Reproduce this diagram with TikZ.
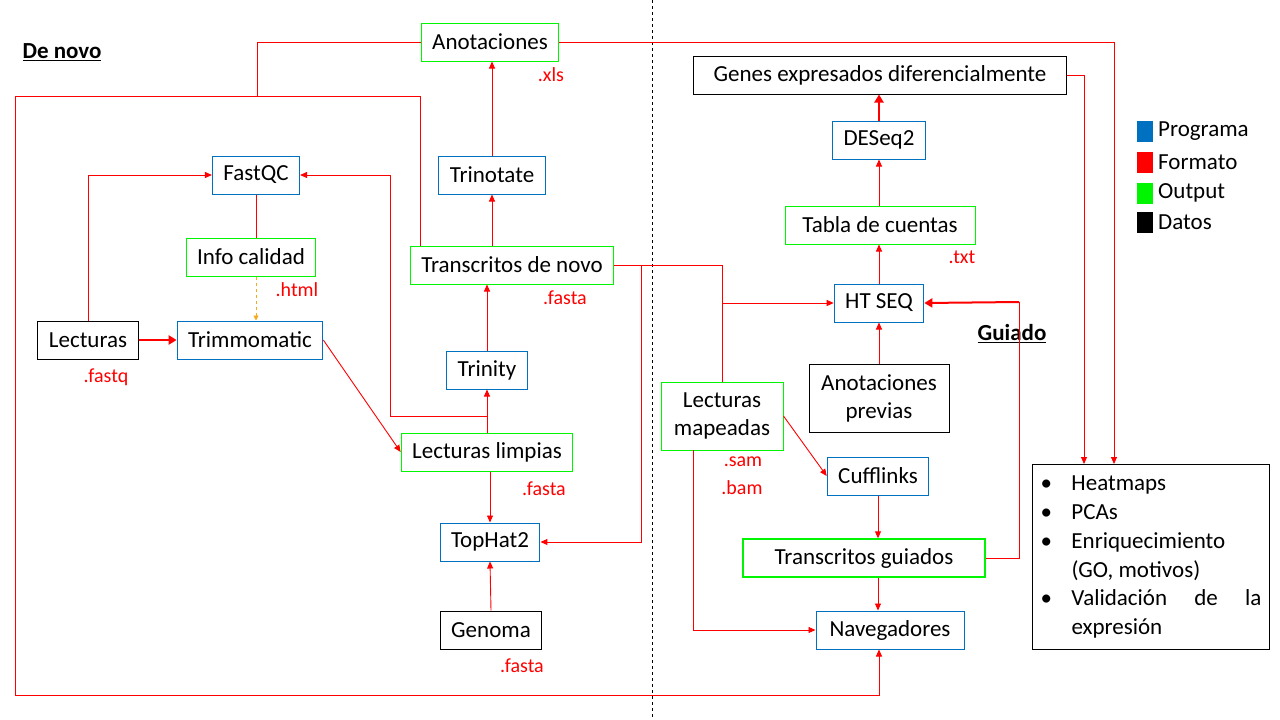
\documentclass[tikz,border=0pt]{standalone}
\usepackage{fontspec}
\setmainfont{Carlito}
\usetikzlibrary{arrows.meta}

\definecolor{azul}{RGB}{0,112,192}
\definecolor{verde}{RGB}{0,245,0}
\definecolor{rojo}{RGB}{255,0,0}
\definecolor{naranja}{RGB}{245,170,30}

\tikzset{
  caja/.style={draw, line width=1pt, minimum height=38pt, inner xsep=11pt, inner ysep=3pt,
    font=\fontsize{23}{28}\selectfont},
  prog/.style={caja, draw=azul},
  outp/.style={caja, draw=verde},
  dato/.style={caja, draw=black},
  fmt/.style={text=rojo, font=\fontsize{20}{24}\selectfont, inner sep=0pt},
  titulo/.style={font=\fontsize{23}{28}\selectfont\bfseries, inner sep=0pt},
  linea/.style={draw=rojo, line width=0.9pt},
  flecha/.style={linea, -{Triangle[width=6pt,length=7pt]}},
  gruesa/.style={draw=rojo, line width=2pt, -{Triangle[width=9pt,length=8pt]}}
}

\begin{document}
\begin{tikzpicture}[x=1pt, y=-1pt]
  \useasboundingbox (0,0) rectangle (1280,720);

  % Division de novo / guiado
  \draw[dashed, line width=0.8pt] (652,0) -- (652,720);
  \node[titulo] (denovo) at (62,52) {\underline{De novo}};
  \node[titulo] (guiado) at (1012,334) {\underline{Guiado}};

  % De novo
  \node[prog] (fastqc) at (256,175) {FastQC};
  \node[outp] (info) at (251,257) {Info calidad};
  \node[fmt] (html) at (297,290) {.html};
  \node[dato] (lect) at (88,340) {Lecturas};
  \node[fmt] (fastq) at (106,377) {.fastq};
  \node[prog] (trim) at (250,340) {Trimmomatic};
  \node[outp] (anot) at (490,42) {Anotaciones};
  \node[fmt] (xls) at (551,75) {.xls};
  \node[prog] (trinotate) at (492,175) {Trinotate};
  \node[outp] (tdn) at (512,265) {Transcritos de novo};
  \node[fmt] (fasta1) at (565,298) {.fasta};
  \node[prog] (trinity) at (487,370) {Trinity};
  \node[outp] (limp) at (487,452) {Lecturas limpias};
  \node[fmt] (fasta2) at (544,489) {.fasta};
  \node[prog] (tophat) at (490,542) {TopHat2};
  \node[dato] (genoma) at (491,630) {Genoma};
  \node[fmt] (fasta3) at (522,666) {.fasta};

  % Guiado
  \node[dato, minimum width=373pt] (genes) at (880,75) {Genes expresados diferencialmente};
  \node[prog] (deseq) at (879,140) {DESeq2};
  \node[outp, minimum width=190pt] (tabla) at (880,225) {Tabla de cuentas};
  \node[fmt] (txt) at (962,257) {.txt};
  \node[prog] (htseq) at (879,303) {HT SEQ};
  \node[dato, align=center, minimum width=140pt, minimum height=68pt] (previas) at (879,398)
    {Anotaciones\\previas};
  \node[outp, align=center, minimum width=122pt, minimum height=68pt] (map) at (722,416)
    {Lecturas\\mapeadas};
  \node[fmt] (sam) at (743,462) {.sam};
  \node[fmt] (bam) at (742,488) {.bam};
  \node[prog] (cuff) at (878,476) {Cufflinks};
  \node[outp, minimum width=242pt, line width=1.4pt] (guiados) at (864,558) {Transcritos guiados};
  \node[prog, minimum width=148pt] (nav) at (890,630) {Navegadores};

  % Resultados
  \node[dato, anchor=north west, minimum width=237pt, minimum height=185pt, inner xsep=8pt,
    font=\fontsize{23}{28.8}\selectfont] (res) at (1032,464) {%
    \begin{tabular}{@{}p{31pt}@{}p{190pt}@{}}
      \textbullet & Heatmaps\\
      \textbullet & PCAs\\
      \textbullet & Enriquecimiento\\
                  & (GO, motivos)\\
      \textbullet & Validación\hfill de\hfill la\\
                  & expresión
    \end{tabular}};

  % Leyenda
  \foreach \col/\txt/\y [count=\i] in {azul/Programa/131, rojo/Formato/162, verde/Output/193, black/Datos/222} {
    \node[fill=\col, minimum width=16pt, minimum height=21pt, inner sep=0pt] (ley\i) at (1145,\y) {};
    \node[anchor=west, inner sep=0pt, font=\fontsize{23}{28}\selectfont] (leyt\i) at (1158,\y) {\txt};
  }

  % Esquinas
  \coordinate (cA) at (257,96);
  \coordinate (cB) at (420,96);
  \coordinate (cC) at (15,96);
  \coordinate (cD) at (15,695);
  \coordinate (cE) at (390,416);
  \coordinate (cF) at (641,266);
  \coordinate (cG) at (1019,302);
  \coordinate (cH) at (1114,42);
  \coordinate (cI) at (1084,75);
  \coordinate (cJ) at (693,450);
  \coordinate (cK) at (879,695);

  % Conexiones de novo
  \draw[gruesa] (lect) -- (trim);
  \draw[flecha] (lect.north) |- (fastqc.west);
  \draw[linea] (fastqc.south) -- (fastqc.south |- info.north);
  \draw[dashed, draw=naranja, line width=0.9pt, -{Triangle[width=5pt,length=5pt]}]
    (fastqc.south |- info.south) -- (fastqc.south |- trim.north);
  \draw[flecha] (trim.east) -- (limp.west);
  \draw[flecha] (limp.north) -- (trinity.south);
  \draw[flecha] (limp.north |- cE) -- (cE) |- (fastqc.east);
  \draw[flecha] (trinity.north) -- (trinity.north |- tdn.south);
  \draw[flecha] (trinotate.south |- tdn.north) -- (trinotate.south);
  \draw[flecha] (trinotate.north) -- (trinotate.north |- anot.south);
  \draw[flecha] (limp.south -| tophat.north) -- (tophat.north);
  \draw[flecha] (genoma.north) -- (tophat.south);
  \draw[linea] (anot.west) -| (cA);
  \draw[flecha] (cB |- tdn.north) -- (cB) -- (cC) -- (cD) -- (cK) -- (cK |- nav.south);
  \draw[flecha] (anot.east) -- (cH) -- (cH |- res.north);

  % Conexiones guiado
  \draw[linea] (tdn.east) -| (map.north);
  \draw[flecha] (cF) |- (tophat.east);
  \draw[flecha] (map.north |- htseq.west) -- (htseq.west);
  \draw[flecha] (htseq.north) -- (htseq.north |- tabla.south);
  \draw[flecha] (deseq.south |- tabla.north) -- (deseq.south);
  \draw[gruesa] (deseq.north) -- (deseq.north |- genes.south);
  \draw[flecha] (previas.north) -- (previas.north |- htseq.south);
  \draw[linea] (guiados.east) -| (cG);
  \draw[gruesa] (cG) -- (htseq.east);
  \draw[flecha] (map.east) -- (cuff.west);
  \draw[flecha] (cuff.south) -- (cuff.south |- guiados.north);
  \draw[flecha] (cuff.south |- guiados.south) -- (cuff.south |- nav.north);
  \draw[flecha] (cJ) |- (nav.west);
  \draw[flecha] (genes.east) -- (cI) -- (cI |- res.north);
\end{tikzpicture}
\end{document}
